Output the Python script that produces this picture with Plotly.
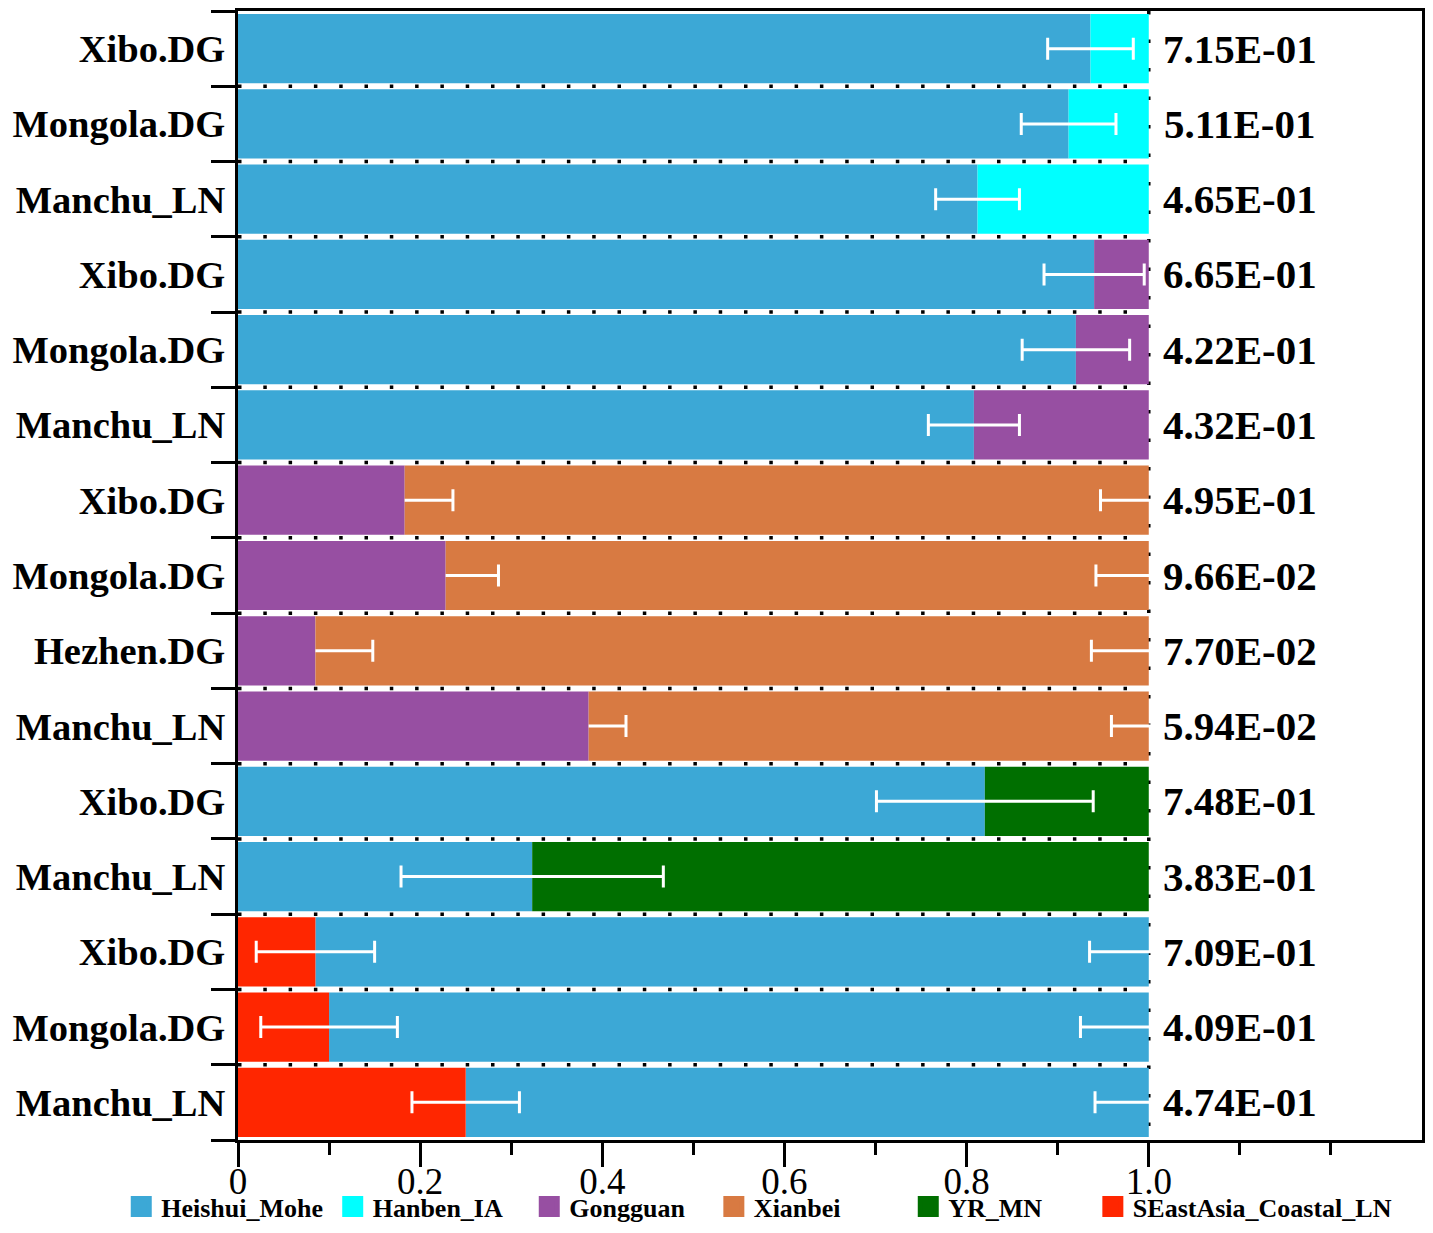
import plotly.graph_objects as go

# rows from top to bottom
labels = ["Xibo.DG", "Mongola.DG", "Manchu_LN", "Xibo.DG", "Mongola.DG", "Manchu_LN",
          "Xibo.DG", "Mongola.DG", "Hezhen.DG", "Manchu_LN", "Xibo.DG", "Manchu_LN",
          "Xibo.DG", "Mongola.DG", "Manchu_LN"]
first_src = ["Heishui_Mohe"] * 6 + ["Gongguan"] * 4 + ["Heishui_Mohe"] * 2 + ["SEastAsia_Coastal_LN"] * 3
second_src = ["Hanben_IA"] * 3 + ["Gongguan"] * 3 + ["Xianbei"] * 4 + ["YR_MN"] * 2 + ["Heishui_Mohe"] * 3
first_frac = [0.936, 0.912, 0.812, 0.940, 0.920, 0.808, 0.183, 0.228, 0.085, 0.385,
              0.820, 0.323, 0.085, 0.100, 0.250]
second_frac = [0.064, 0.088, 0.188, 0.060, 0.080, 0.192, 0.817, 0.772, 0.915, 0.615,
               0.180, 0.677, 0.915, 0.900, 0.750]
std_err = [0.047, 0.052, 0.046, 0.055, 0.059, 0.050, 0.053, 0.058, 0.063, 0.041,
           0.119, 0.144, 0.065, 0.075, 0.059]
p_values = ["7.15E-01", "5.11E-01", "4.65E-01", "6.65E-01", "4.22E-01", "4.32E-01",
            "4.95E-01", "9.66E-02", "7.70E-02", "5.94E-02", "7.48E-01", "3.83E-01",
            "7.09E-01", "4.09E-01", "4.74E-01"]
# which error bars are drawn
err_both_sides = [True] * 6 + [False] * 4 + [True] * 5
err_at_total = [False] * 6 + [True] * 4 + [False] * 2 + [True] * 3

sources = ["Heishui_Mohe", "Hanben_IA", "Gongguan", "Xianbei", "YR_MN", "SEastAsia_Coastal_LN"]
colors = ["#3CA8D6", "#00FFFF", "#974FA2", "#D87A42", "#006F00", "#FF2600"]

FONT = "Liberation Serif"
rows = list(range(len(labels)))

# one small legend per source so the items sit where the original has them
legend_x = [-0.0986, 0.0800, 0.2460, 0.4019, 0.5661, 0.7220]
legend_names = ["legend"] + [f"legend{k}" for k in range(2, len(sources) + 1)]

fig = go.Figure()

for src, col, lg in zip(sources, colors, legend_names):
    xs, ys, bases = [], [], []
    for i in rows:
        if first_src[i] == src:
            xs.append(first_frac[i]); ys.append(i); bases.append(0)
        elif second_src[i] == src:
            xs.append(second_frac[i]); ys.append(i); bases.append(first_frac[i])
    fig.add_trace(go.Bar(x=xs, y=ys, base=bases, orientation="h", name=src, showlegend=False,
                         marker=dict(color=col, line=dict(width=0)), width=0.92))
    # legend entry with a bigger swatch
    fig.add_trace(go.Scatter(x=[None], y=[None], mode="markers", name=src, legend=lg,
                             marker=dict(symbol="square", size=16, color=col,
                                         line=dict(color=col, width=5))))

err_style = dict(type="data", color="white", thickness=3, width=11)

# error bars at the boundary, both directions
idx = [i for i in rows if err_both_sides[i]]
fig.add_trace(go.Scatter(x=[first_frac[i] for i in idx], y=idx, mode="markers",
                         marker=dict(size=1, opacity=0), showlegend=False, hoverinfo="skip",
                         error_x=dict(array=[std_err[i] for i in idx], **err_style)))

# error bars at the boundary, plus side only (line + right cap)
idx = [i for i in rows if not err_both_sides[i]]
fig.add_trace(go.Scatter(x=[first_frac[i] for i in idx], y=idx, mode="markers",
                         marker=dict(size=1, opacity=0), showlegend=False, hoverinfo="skip",
                         error_x=dict(type="data", symmetric=False,
                                      array=[std_err[i] for i in idx],
                                      arrayminus=[0] * len(idx),
                                      color="white", thickness=3, width=0)))
fig.add_trace(go.Scatter(x=[first_frac[i] + std_err[i] for i in idx], y=idx, mode="markers",
                         marker=dict(size=1, opacity=0), showlegend=False, hoverinfo="skip",
                         error_x=dict(array=[0] * len(idx), **err_style)))

# error bars at the end of the stack
idx = [i for i in rows if err_at_total[i]]
fig.add_trace(go.Scatter(x=[first_frac[i] + second_frac[i] for i in idx], y=idx, mode="markers",
                         marker=dict(size=1, opacity=0), showlegend=False, hoverinfo="skip",
                         error_x=dict(array=[std_err[i] for i in idx], **err_style)))

# dotted separators between rows and at 1.0
shapes = []
for i in rows[:-1]:
    shapes.append(dict(type="line", xref="x", yref="y", x0=0, x1=1, y0=i + 0.5, y1=i + 0.5,
                       line=dict(color="black", width=3.5, dash="3.5px,21.8px"), layer="below"))
shapes.append(dict(type="line", xref="x", yref="y", x0=1, x1=1, y0=-0.5, y1=len(rows) - 0.5,
                   line=dict(color="black", width=3.5, dash="3.5px,25px"), layer="below"))

annotations = []
for i in rows:
    annotations.append(dict(x=1.1, y=i, xref="x", yref="y", text=p_values[i], showarrow=False,
                            xanchor="center", yanchor="middle",
                            font=dict(family=FONT, size=41, color="black", weight="bold")))

legend_style = dict(orientation="h", xanchor="left", y=-0.059, yanchor="middle",
                    bgcolor="rgba(0,0,0,0)",
                    font=dict(family=FONT, size=26, color="black", weight="bold"),
                    itemsizing="trace")
legends = {lg: dict(x=lx, **legend_style) for lg, lx in zip(legend_names, legend_x)}

# the page body adds an 8px margin, so the figure is a little smaller than the window
fig.update_layout(
    width=1417, height=1225,
    margin=dict(l=230, r=3, t=3, b=90),
    plot_bgcolor="white", paper_bgcolor="white",
    barmode="overlay",
    shapes=shapes, annotations=annotations,
    font=dict(family=FONT, color="black"),
    **legends,
)
fig.update_xaxes(range=[0, 1.3], showgrid=False, zeroline=False, automargin=False,
                 showline=True, linecolor="black", linewidth=3, mirror=True,
                 tickvals=[0, 0.2, 0.4, 0.6, 0.8, 1.0],
                 ticktext=["0", "0.2", "0.4", "0.6", "0.8", "1.0"],
                 ticks="outside", ticklen=24, tickwidth=3, tickcolor="black",
                 ticklabelstandoff=-17,
                 tickfont=dict(family=FONT, size=37, color="black"),
                 minor=dict(tickmode="array", tickvals=[0.1, 0.3, 0.5, 0.7, 0.9, 1.1, 1.2],
                            ticks="outside", ticklen=12, tickwidth=3, tickcolor="black",
                            showgrid=False))
fig.update_yaxes(range=[len(rows) - 0.5, -0.5], showgrid=False, zeroline=False, automargin=False,
                 showline=True, linecolor="black", linewidth=3, mirror=True,
                 tickvals=rows, ticktext=labels, ticks="",
                 tickfont=dict(family=FONT, size=38.5, color="black", weight="bold"),
                 ticklabelstandoff=2,
                 minor=dict(tickmode="array", tickvals=[i - 0.5 for i in range(len(rows) + 1)],
                            ticks="outside", ticklen=24, tickwidth=3, tickcolor="black",
                            showgrid=False))

fig.write_html("out.html")
